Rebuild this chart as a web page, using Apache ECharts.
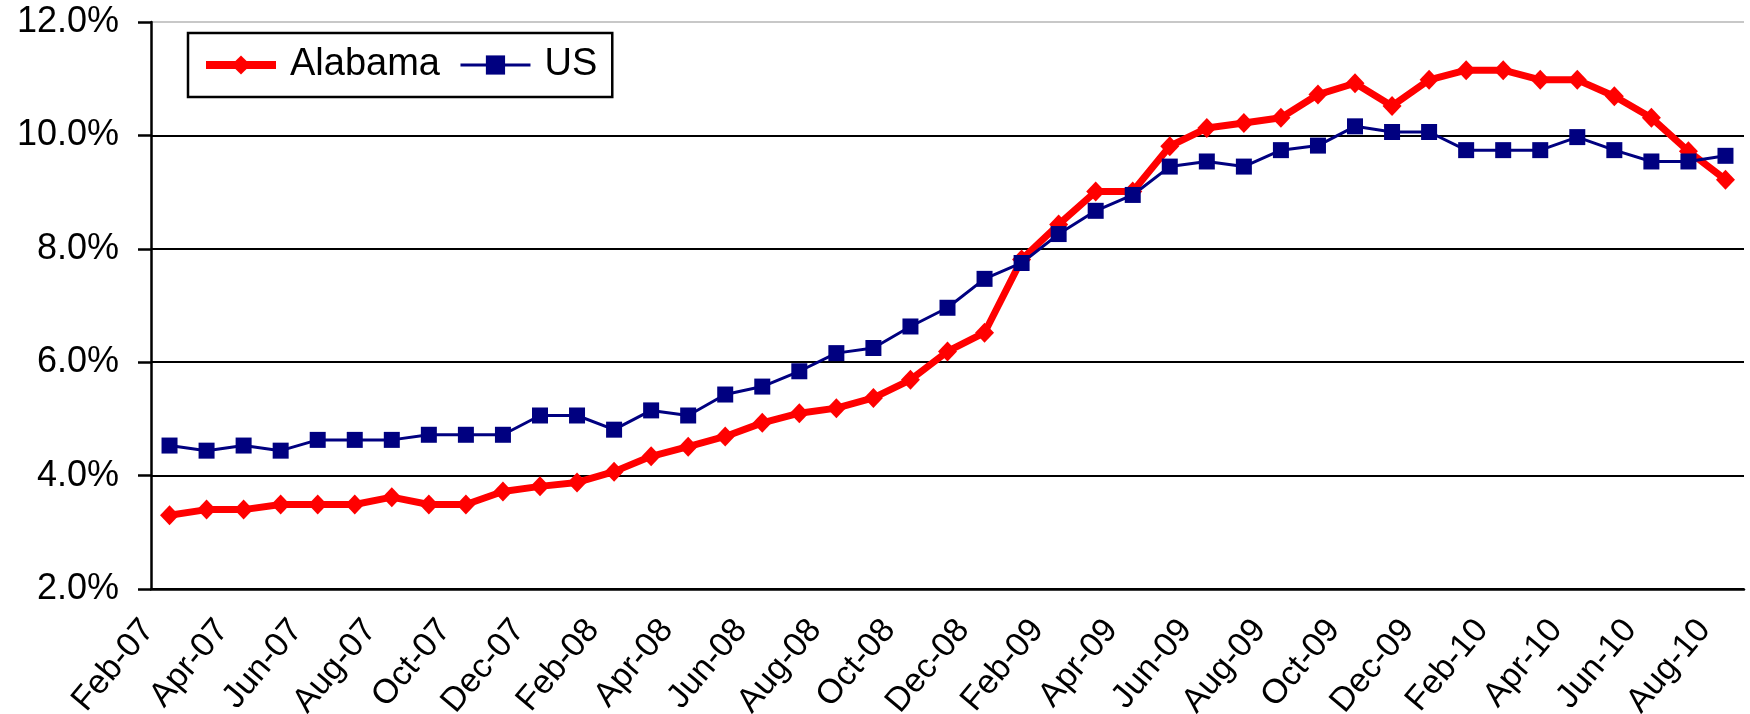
<!DOCTYPE html>
<html>
<head>
<meta charset="utf-8">
<script src="https://cdn.jsdelivr.net/npm/echarts@6/dist/echarts.min.js"></script>
<style>
  html, body { margin: 0; padding: 0; background: #ffffff; }
  #chart { width: 1750px; height: 714px; }
</style>
</head>
<body>
<div id="chart"></div>
<script>
// monthly unemployment rate, percent
const months = ['Feb-07', 'Mar-07', 'Apr-07', 'May-07', 'Jun-07', 'Jul-07', 'Aug-07', 'Sep-07', 'Oct-07', 'Nov-07', 'Dec-07',
  'Jan-08', 'Feb-08', 'Mar-08', 'Apr-08', 'May-08', 'Jun-08', 'Jul-08', 'Aug-08', 'Sep-08', 'Oct-08', 'Nov-08', 'Dec-08',
  'Jan-09', 'Feb-09', 'Mar-09', 'Apr-09', 'May-09', 'Jun-09', 'Jul-09', 'Aug-09', 'Sep-09', 'Oct-09', 'Nov-09', 'Dec-09',
  'Jan-10', 'Feb-10', 'Mar-10', 'Apr-10', 'May-10', 'Jun-10', 'Jul-10', 'Aug-10'];

const alabama = [3.30, 3.40, 3.40, 3.49, 3.49, 3.49, 3.62, 3.49, 3.49, 3.72, 3.81,
  3.88, 4.07, 4.34, 4.51, 4.69, 4.93, 5.10, 5.19, 5.37, 5.69, 6.19, 6.52,
  7.81, 8.43, 9.01, 9.01, 9.81, 10.13, 10.22, 10.31, 10.72, 10.92, 10.52, 10.98,
  11.15, 11.15, 10.98, 10.98, 10.69, 10.31, 9.72, 9.22];

const us = [4.53, 4.44, 4.53, 4.44, 4.63, 4.63, 4.63, 4.72, 4.72, 4.72, 5.06,
  5.06, 4.81, 5.15, 5.06, 5.43, 5.57, 5.84, 6.16, 6.25, 6.63, 6.96, 7.47,
  7.75, 8.26, 8.67, 8.95, 9.45, 9.54, 9.45, 9.74, 9.82, 10.16, 10.06, 10.06,
  9.74, 9.74, 9.74, 9.97, 9.74, 9.54, 9.54, 9.64];

const font = "'Liberation Sans', Arial, sans-serif";

let chart = echarts.init(document.getElementById('chart'));

let option = {
  animation: false,
  backgroundColor: '#ffffff',
  grid: {
    left: 151,
    right: 6,
    top: 22,
    bottom: 125,
    outerBoundsMode: 'none',
  },
  legend: {
    left: 188,
    top: 33,
    padding: [12, 15, 12, 14],
    itemGap: 19,
    itemWidth: 70,
    itemHeight: 24,
    borderColor: '#000000',
    borderWidth: 2.5,
    textStyle: {
      fontFamily: font,
      fontSize: 38,
      color: '#000000',
      lineHeight: 40,
      padding: [0, 0, 0, 9],
    },
    data: [
      { name: 'Alabama', lineStyle: { width: 8, color: '#ff0000' } },
      { name: 'US', lineStyle: { width: 3, color: '#000080' } },
    ],
  },
  xAxis: {
    type: 'category',
    data: months,
    boundaryGap: true,
    axisLine: { lineStyle: { color: '#000000', width: 2.5 } },
    axisTick: {
      interval: 1,
      length: 12,
      alignWithLabel: false,
      lineStyle: { color: '#000000', width: 2.5 },
    },
    axisLabel: {
      interval: 1,
      rotate: 50,
      margin: 10,
      padding: [0, 33, 0, 0],
      fontFamily: font,
      fontSize: 34,
      color: '#000000',
    },
    splitLine: { show: false },
  },
  yAxis: {
    type: 'value',
    min: 2,
    max: 12,
    interval: 2,
    axisLine: { show: true, lineStyle: { color: '#000000', width: 2.5 } },
    axisTick: { show: true, length: 13, lineStyle: { color: '#000000', width: 2.5 } },
    axisLabel: {
      margin: 32,
      fontFamily: font,
      fontSize: 36,
      color: '#000000',
      formatter: (v) => v.toFixed(1) + '%',
    },
    splitLine: {
      show: true,
      lineStyle: {
        color: ['#000000', '#000000', '#000000', '#000000', '#000000', '#c8c8c8'],
        width: 2,
      },
    },
  },
  series: [
    {
      name: 'Alabama',
      type: 'line',
      data: alabama,
      symbol: 'diamond',
      symbolSize: [19, 20],
      showAllSymbol: true,
      lineStyle: { color: '#ff0000', width: 7 },
      itemStyle: { color: '#ff0000' },
    },
    {
      name: 'US',
      type: 'line',
      data: us,
      symbol: 'rect',
      symbolSize: 16,
      showAllSymbol: true,
      lineStyle: { color: '#000080', width: 3 },
      itemStyle: { color: '#000080' },
    },
  ],
};

chart.setOption(option, true);
</script>
</body>
</html>
